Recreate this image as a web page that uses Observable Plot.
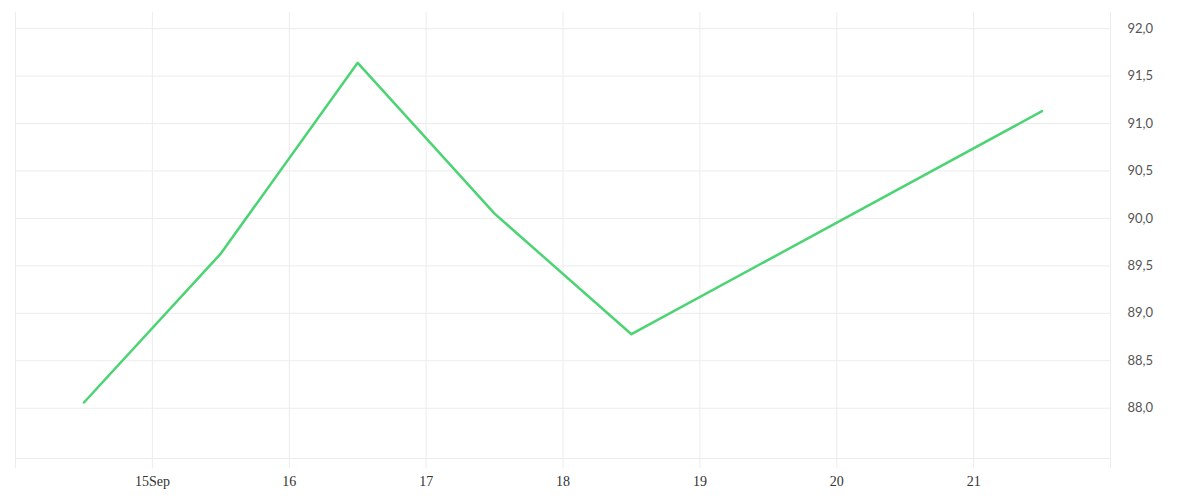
<!DOCTYPE html>
<html>
<head>
<meta charset="utf-8">
<script src="https://cdn.jsdelivr.net/npm/d3@7"></script>
<script src="https://cdn.jsdelivr.net/npm/@observablehq/plot@0.6"></script>
<style>
  html, body { margin: 0; padding: 0; background: #fff; }
  #chart { width: 1200px; height: 500px; }
</style>
</head>
<body>
<div id="chart"></div>
<script>
const dates = ["2023-09-14T12:00Z", "2023-09-15T12:00Z", "2023-09-16T12:00Z", "2023-09-17T12:00Z", "2023-09-18T12:00Z", "2023-09-21T12:00Z"];
const values = [88.06, 89.63, 91.64, 90.05, 88.78, 91.13];
const xDomain = ["2023-09-14T00:00Z", "2023-09-22T00:00Z"];
const yDomain = [87.47, 92.17];
const yTicks = [88.0, 88.5, 89.0, 89.5, 90.0, 90.5, 91.0, 91.5, 92.0];

const data = dates.map((d, i) => ({date: new Date(d), value: values[i]}));
const x0 = new Date(xDomain[0]), x1 = new Date(xDomain[1]);
const dayTicks = d3.utcDay.range(x0, d3.utcDay.offset(x1, 1));

const gridColor = "#ececec";

const chart = Plot.plot({
  width: 1200,
  height: 500,
  marginLeft: 15,
  marginRight: 90,
  marginTop: 12,
  marginBottom: 42,
  style: {background: "#fff", overflow: "visible"},
  x: {type: "utc", domain: [x0, x1]},
  y: {domain: yDomain},
  marks: [
    Plot.ruleX(dayTicks, {x: d => d, stroke: gridColor, strokeWidth: 1}),
    Plot.ruleY(yTicks, {y: d => d, stroke: gridColor, strokeWidth: 1}),
    Plot.ruleY([yDomain[0]], {stroke: gridColor, strokeWidth: 1}),
    Plot.axisX({
      ticks: dayTicks,
      tickSize: 10,
      stroke: gridColor,
      tickPadding: 8,
      tickFormat: d => {
        const day = d.getUTCDate();
        if (d <= x0 || d >= x1) return "";
        return day === 15 ? "15Sep" : String(day);
      },
      fontFamily: "Liberation Serif",
      fontSize: 14,
      fill: "#333",
      label: null
    }),
    Plot.axisY({
      anchor: "right",
      ticks: yTicks,
      tickSize: 0,
      tickPadding: 17,
      tickFormat: d => d.toFixed(1).replace(".", ","),
      fontFamily: "Lato",
      fontSize: 13,
      fill: "#555",
      label: null
    }),
    Plot.line(data, {x: "date", y: "value", stroke: "#4cd474", strokeWidth: 2.5, curve: "linear"})
  ]
});
document.getElementById("chart").appendChild(chart);
</script>
</body>
</html>
